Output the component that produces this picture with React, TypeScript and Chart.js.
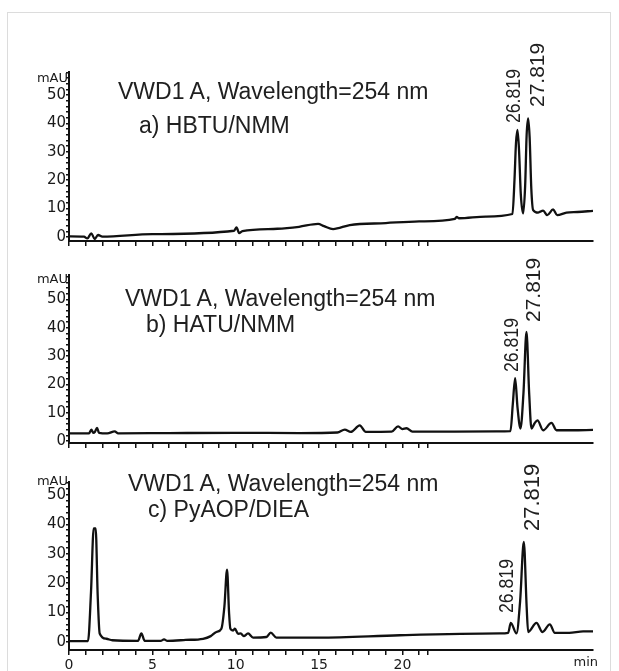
import React, { useEffect, useRef } from "react";
import { Chart, registerables } from "chart.js";

Chart.register(...registerables);

// ---- data (retention time in min, signal in mAU) ----
const timesA = [0, 0.9, 1.1, 1.34, 1.54, 1.74, 2.0, 5.0, 9.9, 10.05, 10.2, 10.4, 12.5, 13.8, 14.94, 15.3, 15.84, 16.84, 19.0, 21.0, 23.15, 23.25, 23.4, 25.0, 26.6, 26.72, 26.81, 26.9, 26.99, 27.1, 27.24, 27.36, 27.45, 27.54, 27.63, 27.73, 27.84, 28.14, 28.44, 28.68, 29.04, 29.28, 29.84, 30.5, 31.43];
const valuesA = [0.2, 0.1, -0.5, 1.3, -0.7, 0.7, 0.1, 1.0, 2.2, 3.4, 1.4, 2.1, 2.9, 3.6, 4.6, 3.8, 2.8, 4.2, 4.9, 5.5, 6.4, 7.1, 6.6, 7.2, 8.1, 20, 33, 37.7, 31, 15, 8.3, 18, 36, 41.8, 35, 17, 9.5, 8.6, 9.3, 7.7, 9.7, 7.7, 8.6, 8.8, 9.2];

const timesB = [0, 1.2, 1.34, 1.46, 1.56, 1.68, 1.8, 2.3, 2.74, 2.95, 6.0, 10.0, 13.84, 16.1, 16.54, 16.9, 17.44, 17.8, 19.35, 19.74, 20.0, 20.24, 20.6, 25.64, 26.48, 26.62, 26.76, 26.9, 27.08, 27.26, 27.44, 27.6, 27.74, 27.92, 28.1, 28.44, 28.94, 29.24, 30.2, 31.43];
const valuesB = [2.7, 2.7, 4.0, 2.9, 3.3, 4.6, 2.9, 2.7, 3.4, 2.7, 2.8, 2.9, 2.8, 3.0, 4.0, 3.2, 5.5, 3.2, 3.3, 5.2, 4.2, 4.5, 3.3, 3.4, 3.5, 13, 22.2, 12, 4.4, 17, 38.5, 17, 4.4, 6.2, 7.3, 3.8, 6.4, 3.8, 3.8, 3.9];

const timesC = [0, 1.14, 1.32, 1.48, 1.6, 1.72, 1.84, 2.24, 2.6, 4.14, 4.34, 4.54, 5.5, 5.7, 5.9, 7.0, 8.04, 8.5, 8.84, 9.14, 9.32, 9.48, 9.6, 9.68, 9.84, 9.95, 10.14, 10.3, 10.48, 10.74, 11.04, 11.84, 12.1, 12.44, 15.0, 19.84, 25.84, 26.34, 26.5, 26.84, 27.06, 27.28, 27.45, 27.54, 28.04, 28.4, 28.84, 29.14, 30.0, 30.84, 31.43];
const valuesC = [0.3, 0.3, 17, 38.6, 38.6, 16, 2.9, 1.1, 0.6, 0.4, 2.9, 0.4, 0.4, 0.9, 0.4, 0.7, 1.1, 2.0, 3.4, 4.5, 12, 24.6, 10, 4.5, 3.9, 4.5, 2.8, 2.9, 2.0, 2.9, 1.5, 1.7, 3.2, 1.5, 1.5, 2.3, 2.9, 3.1, 6.5, 2.9, 14, 34.0, 12, 3.4, 6.5, 3.4, 6.0, 3.1, 3.1, 3.6, 3.6];

// ---- tick labels ----
const xTickValues = [0, 1, 2, 3, 4, 5, 6, 7, 8, 9, 10, 11, 12, 13, 14, 15, 16, 17, 18, 19, 20, 21, 21.5];
const xLabelValues = [0, 5, 10, 15, 20];
const yTickValues = [0, 2, 4, 6, 8, 10, 12, 14, 16, 18, 20, 22, 24, 26, 28, 30, 32, 34, 36, 38, 40, 42, 44, 46, 48, 50, 52, 54, 56, 58];
const yLabelValues = [0, 10, 20, 30, 40, 50];
const titleLine = "VWD1 A, Wavelength=254 nm";
const methodNames = ["a) HBTU/NMM", "b) HATU/NMM", "c) PyAOP/DIEA"];
const peakLabels = ["26.819", "27.819"];
const xMax = 31.43;

const INK = "#111111";

type PanelProps = {
  times: number[];
  values: number[];
  yMin: number;
  yMax: number;
  top: number;
  height: number;
  xHeight: number;
  showX: boolean;
};

function Panel({ times, values, yMin, yMax, top, height, xHeight, showX }: PanelProps) {
  const ref = useRef<HTMLCanvasElement | null>(null);
  useEffect(() => {
    if (!ref.current) return;
    const chart = new Chart(ref.current, {
      type: "line",
      data: {
        datasets: [
          {
            data: times.map((t, i) => ({ x: t, y: values[i] })),
            borderColor: INK,
            borderWidth: 2.3,
            pointRadius: 0,
            fill: false,
            cubicInterpolationMode: "monotone",
          },
        ],
      },
      options: {
        animation: false,
        responsive: false,
        maintainAspectRatio: false,
        events: [],
        layout: { padding: { top: 12, right: 26, left: 0, bottom: 0 } },
        plugins: { legend: { display: false }, tooltip: { enabled: false }, title: { display: false } },
        scales: {
          x: {
            type: "linear",
            min: 0,
            max: xMax,
            afterBuildTicks: (s: any) => {
              s.ticks = xTickValues.map((v) => ({ value: v }));
            },
            afterFit: (s: any) => {
              s.height = xHeight;
            },
            grid: { drawOnChartArea: false, drawTicks: true, tickLength: 5, color: INK, lineWidth: 1.5 },
            border: { display: true, color: INK, width: 2 },
            ticks: {
              display: showX,
              autoSkip: false,
              maxRotation: 0,
              padding: 2,
              color: "#1a1a1a",
              font: { family: "DejaVu Sans", size: 14 },
              callback: (v: any) => (xLabelValues.includes(Number(v)) ? String(v) : ""),
            },
          },
          y: {
            type: "linear",
            min: yMin,
            max: yMax,
            afterBuildTicks: (s: any) => {
              s.ticks = yTickValues.filter((v) => v <= yMax).map((v) => ({ value: v }));
            },
            afterFit: (s: any) => {
              s.width = 69;
            },
            grid: { drawOnChartArea: false, drawTicks: true, tickLength: 3, color: INK, lineWidth: 1.5 },
            border: { display: true, color: INK, width: 2 },
            ticks: {
              autoSkip: false,
              padding: 0,
              color: "#1a1a1a",
              font: { family: "DejaVu Sans", size: 15 },
              callback: (v: any) => (yLabelValues.includes(Number(v)) ? String(v) : ""),
            },
          },
        },
      },
    } as any);
    return () => chart.destroy();
  }, []);
  return (
    <canvas
      ref={ref}
      width={619}
      height={height}
      style={{ position: "absolute", left: 0, top, width: 619, height, display: "block" }}
    />
  );
}

function Text({ text, left, top, size = 23 }: { text: string; left: number; top: number; size?: number }) {
  return (
    <div
      style={{
        position: "absolute",
        left,
        top,
        fontFamily: "'Liberation Sans', Arial, sans-serif",
        fontSize: size,
        lineHeight: `${size}px`,
        color: "#202020",
        whiteSpace: "nowrap",
      }}
    >
      {text}
    </div>
  );
}

function VLabel({ text, left, top, size, squeeze = 1 }: { text: string; left: number; top: number; size: number; squeeze?: number }) {
  return (
    <div
      style={{
        position: "absolute",
        left,
        top,
        fontFamily: "'Liberation Sans', Arial, sans-serif",
        fontSize: size,
        lineHeight: `${size}px`,
        color: "#202020",
        whiteSpace: "nowrap",
        transformOrigin: "0 0",
        transform: `rotate(-90deg) scaleX(${squeeze})`,
      }}
    >
      {text}
    </div>
  );
}

function Unit({ text, top, right, size = 13 }: { text: string; top: number; right: number; size?: number }) {
  return (
    <div
      style={{
        position: "absolute",
        right,
        top,
        fontFamily: "'DejaVu Sans', sans-serif",
        fontSize: size,
        lineHeight: `${size}px`,
        color: "#1a1a1a",
        whiteSpace: "nowrap",
      }}
    >
      {text}
    </div>
  );
}

export default function App() {
  return (
    <div
      style={{
        position: "absolute",
        left: 0,
        top: 0,
        width: 619,
        height: 671,
        overflow: "hidden",
        background: "#fff",
      }}
    >
      <div
        style={{
          position: "absolute",
          left: 7,
          top: 12,
          width: 604,
          height: 700,
          border: "1px solid #dcdcdc",
          boxSizing: "border-box",
        }}
      />
      <Panel times={timesA} values={valuesA} yMin={-1.41} yMax={58.1} top={60} height={190} xHeight={9} showX={false} />
      <Panel times={timesB} values={valuesB} yMin={-0.7} yMax={58.6} top={263} height={189} xHeight={9} showX={false} />
      <Panel times={timesC} values={valuesC} yMin={-2.72} yMax={54.4} top={470} height={201} xHeight={21} showX={true} />

      <Unit text="mAU" top={70.5} right={551} />
      <Unit text="mAU" top={272} right={551} />
      <Unit text="mAU" top={473.5} right={551} />
      <Unit text="min" top={655} right={21} size={13} />

      <Text text={titleLine} left={118} top={79.5} />
      <Text text={methodNames[0]} left={139} top={113.5} />
      <Text text={titleLine} left={125} top={286.5} />
      <Text text={methodNames[1]} left={146} top={312.5} />
      <Text text={titleLine} left={128} top={472} />
      <Text text={methodNames[2]} left={148} top={497.5} />

      <VLabel text={peakLabels[0]} left={501.7} top={123} size={21} squeeze={0.84} />
      <VLabel text={peakLabels[1]} left={525.5} top={107} size={21} />
      <VLabel text={peakLabels[0]} left={499.7} top={371.7} size={21} squeeze={0.84} />
      <VLabel text={peakLabels[1]} left={522.2} top={321.7} size={21} />
      <VLabel text={peakLabels[0]} left={494.7} top={613.3} size={21} squeeze={0.84} />
      <VLabel text={peakLabels[1]} left={520.9} top={530.7} size={22} />
    </div>
  );
}
